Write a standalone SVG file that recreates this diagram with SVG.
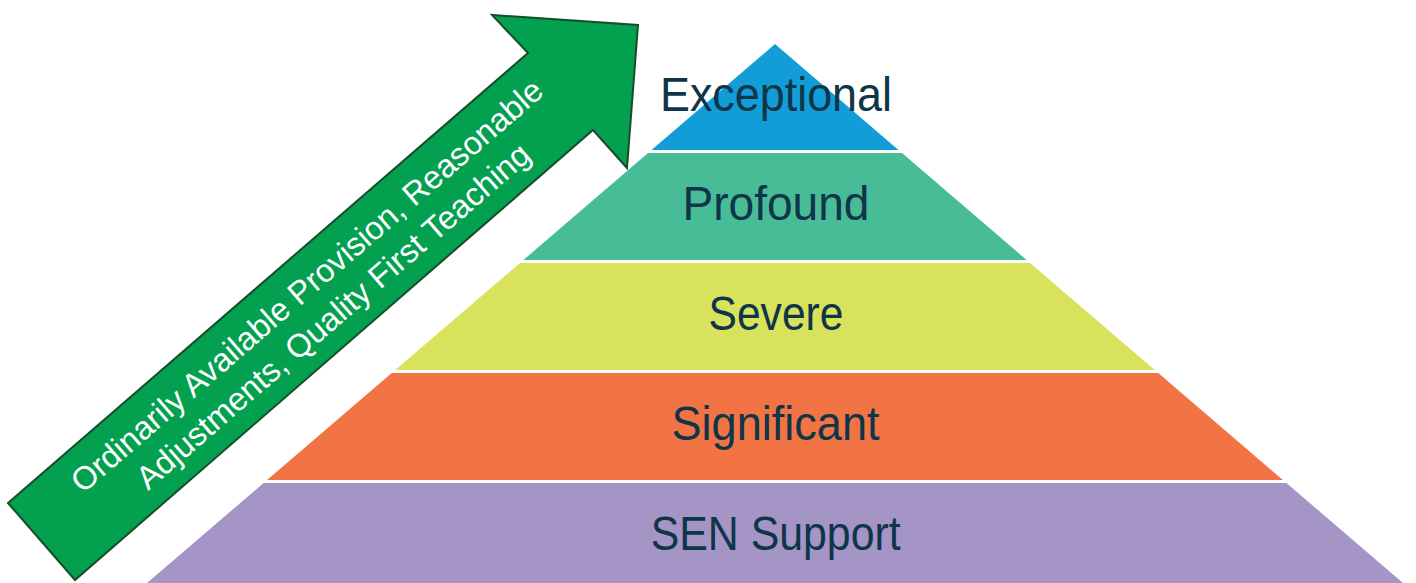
<svg xmlns="http://www.w3.org/2000/svg" width="1416" height="583" viewBox="0 0 1416 583">
  <style>
    .tier-label { font-family: "Liberation Sans", Arial, sans-serif; font-size: 49px; fill: #0e3548; text-anchor: middle; }
    .arrow-label { font-family: "Liberation Sans", Arial, sans-serif; font-size: 32.5px; fill: #ffffff; text-anchor: middle; }
    .arrow-body { fill: #02a04f; stroke: #174d2a; stroke-width: 2; stroke-linejoin: miter; }
  </style>
  <rect x="0" y="0" width="1416" height="583" fill="#ffffff"/>

  <!-- pyramid tiers, top to bottom -->
  <g id="tier-exceptional">
    <polygon points="775,44 898.5,150 651.5,150" fill="#139dd8"/>
    <text class="tier-label" x="776" y="111" textLength="232" lengthAdjust="spacingAndGlyphs">Exceptional</text>
  </g>
  <g id="tier-profound">
    <polygon points="648,153 902,153 1026.6,260 523.4,260" fill="#48bc97"/>
    <text class="tier-label" x="776" y="220" textLength="187" lengthAdjust="spacingAndGlyphs">Profound</text>
  </g>
  <g id="tier-severe">
    <polygon points="520,263 1030,263 1154.8,370 395.2,370" fill="#d9e25c"/>
    <text class="tier-label" x="776" y="330" textLength="135" lengthAdjust="spacingAndGlyphs">Severe</text>
  </g>
  <g id="tier-significant">
    <polygon points="391.7,373 1158.3,373 1282.9,480 267.1,480" fill="#f27444"/>
    <text class="tier-label" x="775.5" y="439.5" textLength="208" lengthAdjust="spacingAndGlyphs">Significant</text>
  </g>
  <g id="tier-sen-support">
    <polygon points="263.6,483 1286.4,483 1403,583 147,583" fill="#a594c6"/>
    <text class="tier-label" x="775.7" y="550" textLength="250" lengthAdjust="spacingAndGlyphs">SEN Support</text>
  </g>

  <!-- rising arrow alongside the pyramid -->
  <g id="provision-arrow">
    <polygon class="arrow-body" points="8,503 528,53 492,15 638,25 627,168 593,130 75,580"/>
    <g transform="translate(320,301) rotate(-40.87)">
      <text class="arrow-label" x="0" y="-9">Ordinarily Available Provision, Reasonable</text>
      <text class="arrow-label" x="0" y="31">Adjustments, Quality First Teaching</text>
    </g>
  </g>

  <g id="connectors"></g>
</svg>
